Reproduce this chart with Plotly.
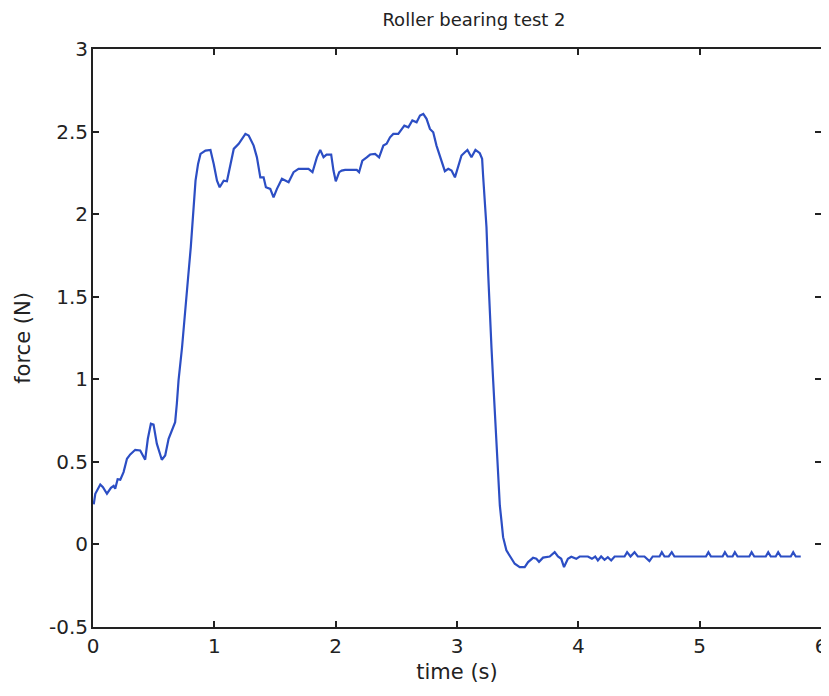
import plotly.graph_objects as go

# time (s) and force (N)
time_s = [
    0.006, 0.019, 0.060, 0.082, 0.115, 0.148, 0.170, 0.183, 0.203, 0.225,
    0.252, 0.280, 0.307, 0.348, 0.389, 0.430, 0.452, 0.477, 0.499, 0.526,
    0.567, 0.595, 0.623, 0.650, 0.677, 0.691, 0.705, 0.734, 0.757, 0.784,
    0.806, 0.822, 0.845, 0.866, 0.886, 0.927, 0.968, 0.995, 1.022, 1.044,
    1.077, 1.104, 1.132, 1.160, 1.201, 1.256, 1.283, 1.324, 1.351, 1.379,
    1.406, 1.425, 1.461, 1.488, 1.516, 1.557, 1.612, 1.653, 1.694, 1.776,
    1.809, 1.845, 1.873, 1.900, 1.925, 1.963, 1.982, 2.001, 2.029, 2.050,
    2.078, 2.174, 2.193, 2.220, 2.256, 2.284, 2.325, 2.358, 2.393, 2.420,
    2.448, 2.475, 2.516, 2.566, 2.599, 2.632, 2.667, 2.695, 2.722, 2.749,
    2.777, 2.804, 2.831, 2.859, 2.887, 2.900, 2.928, 2.955, 2.983, 3.010,
    3.037, 3.065, 3.086, 3.119, 3.152, 3.188, 3.207, 3.215, 3.229, 3.243,
    3.257, 3.271, 3.284, 3.298, 3.312, 3.325, 3.339, 3.353, 3.366, 3.380,
    3.407, 3.435, 3.476, 3.517, 3.558, 3.586, 3.627, 3.654, 3.676, 3.709,
    3.764, 3.805, 3.832, 3.859, 3.882, 3.914, 3.942, 3.983, 4.011, 4.079,
    4.112, 4.139, 4.161, 4.188, 4.216, 4.243, 4.271, 4.299, 4.381, 4.402,
    4.430, 4.463, 4.490, 4.545, 4.586, 4.613, 4.669, 4.688, 4.710, 4.745,
    4.770, 4.792, 5.052, 5.072, 5.093, 5.189, 5.208, 5.230, 5.271, 5.290,
    5.312, 5.409, 5.428, 5.450, 5.545, 5.565, 5.586, 5.627, 5.647, 5.669,
    5.751, 5.771, 5.792, 5.833,
]
force_n = [
    0.242, 0.307, 0.363, 0.347, 0.307, 0.343, 0.355, 0.337, 0.395, 0.392,
    0.438, 0.519, 0.545, 0.573, 0.569, 0.513, 0.640, 0.731, 0.726, 0.610,
    0.513, 0.539, 0.640, 0.690, 0.740, 0.852, 0.993, 1.194, 1.416, 1.618,
    1.800, 1.981, 2.203, 2.304, 2.365, 2.385, 2.389, 2.304, 2.203, 2.163,
    2.203, 2.199, 2.304, 2.395, 2.426, 2.486, 2.476, 2.415, 2.344, 2.223,
    2.223, 2.163, 2.153, 2.102, 2.153, 2.214, 2.193, 2.254, 2.274, 2.274,
    2.254, 2.344, 2.389, 2.345, 2.360, 2.361, 2.264, 2.199, 2.254, 2.264,
    2.268, 2.268, 2.254, 2.324, 2.344, 2.361, 2.365, 2.344, 2.415, 2.426,
    2.465, 2.486, 2.486, 2.536, 2.526, 2.567, 2.556, 2.597, 2.607, 2.577,
    2.516, 2.496, 2.415, 2.355, 2.295, 2.260, 2.274, 2.264, 2.223, 2.284,
    2.355, 2.375, 2.389, 2.344, 2.389, 2.369, 2.335, 2.234, 2.082, 1.921,
    1.639, 1.356, 1.194, 0.993, 0.791, 0.650, 0.428, 0.236, 0.145, 0.044,
    -0.036, -0.067, -0.117, -0.137, -0.137, -0.107, -0.081, -0.087, -0.105, -0.080,
    -0.073, -0.047, -0.073, -0.087, -0.137, -0.087, -0.075, -0.087, -0.073, -0.073,
    -0.087, -0.073, -0.097, -0.073, -0.093, -0.077, -0.097, -0.073, -0.073, -0.047,
    -0.073, -0.047, -0.073, -0.073, -0.101, -0.073, -0.073, -0.047, -0.073, -0.073,
    -0.047, -0.073, -0.073, -0.047, -0.073, -0.073, -0.047, -0.073, -0.073, -0.047,
    -0.073, -0.073, -0.047, -0.073, -0.073, -0.047, -0.073, -0.073, -0.047, -0.073,
    -0.073, -0.047, -0.073, -0.073,
]

x_ticks = [0, 1, 2, 3, 4, 5, 6]
y_ticks = [-0.5, 0, 0.5, 1, 1.5, 2, 2.5, 3]
y_tick_text = ["-0.5", "0", "0.5", "1", "1.5", "2", "2.5", "3"]

FONT = "DejaVu Sans, Liberation Sans, Arial, sans-serif"
INK = "#222222"

fig = go.Figure()
fig.add_trace(go.Scatter(
    x=time_s, y=force_n, mode="lines",
    line=dict(color="#2c4ec4", width=2.2),
    showlegend=False, hoverinfo="x+y",
))

axis_common = dict(
    automargin=False,
    showgrid=False, zeroline=False,
    showline=True, linecolor=INK, linewidth=2, mirror="ticks",
    ticks="inside", ticklen=6, tickwidth=1.5, tickcolor=INK,
    tickfont=dict(family=FONT, size=20, color=INK),
)

# page body adds an 8px margin, so the figure is sized/offset to compensate
fig.update_layout(
    width=821, height=688,
    margin=dict(l=85, r=8, t=41, b=69),
    paper_bgcolor="white", plot_bgcolor="white",
    title=dict(text="Roller bearing test 2", x=0.5676, xanchor="center",
               y=0.983, yanchor="middle",
               font=dict(family=FONT, size=18, color=INK)),
    xaxis=dict(range=[0, 6], tickvals=x_ticks,
               title=dict(text="time (s)", standoff=7,
                          font=dict(family=FONT, size=21, color=INK)),
               ticklabelstandoff=0, ticklabeloverflow="allow", **axis_common),
    yaxis=dict(range=[-0.5, 3], tickvals=y_ticks, ticktext=y_tick_text,
               title=dict(text="force (N)", standoff=13,
                          font=dict(family=FONT, size=21, color=INK)),
               ticklabelstandoff=-1, **axis_common),
)

fig.write_html("out.html")
